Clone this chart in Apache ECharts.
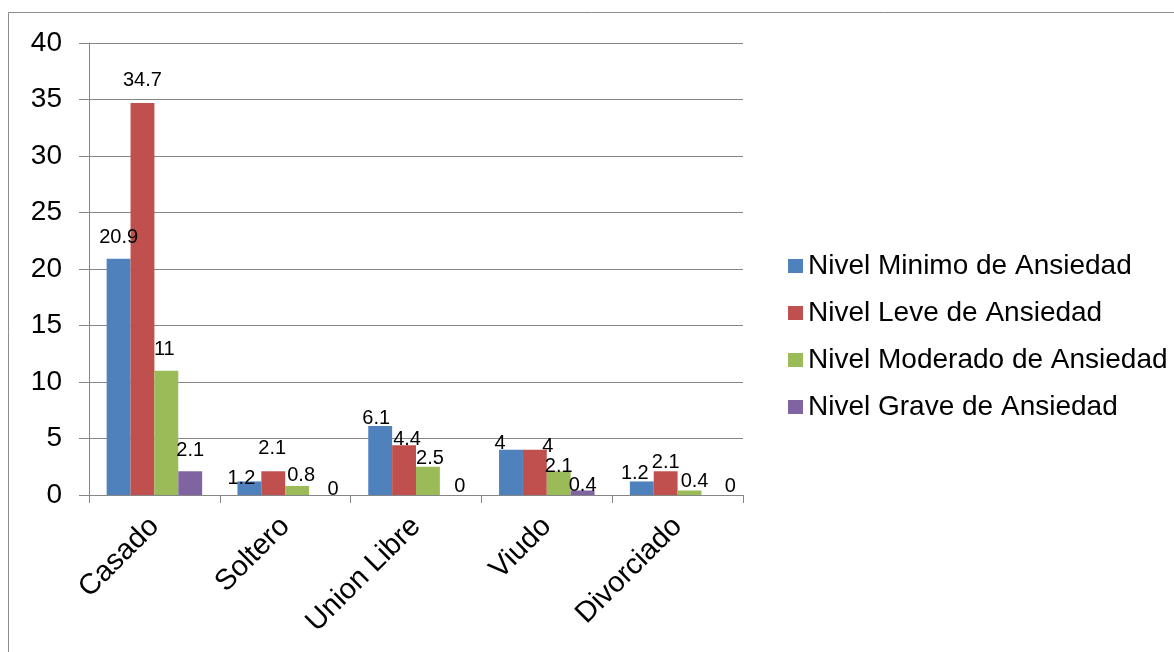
<!DOCTYPE html>
<html>
<head>
<meta charset="utf-8">
<script src="https://cdn.jsdelivr.net/npm/echarts@6/dist/echarts.min.js"></script>
<style>
  html, body { margin: 0; padding: 0; background: #ffffff; }
  #chart { width: 1174px; height: 652px; }
</style>
</head>
<body>
<div id="chart"></div>
<script>
// Estado civil (categorías del eje X)
const categories = ['Casado', 'Soltero', 'Union Libre', 'Viudo', 'Divorciado'];

// Nombres de las series
const seriesNames = [
  'Nivel Minimo de Ansiedad',
  'Nivel Leve de Ansiedad',
  'Nivel Moderado de Ansiedad',
  'Nivel Grave de Ansiedad'
];

// Porcentajes por nivel de ansiedad
const nivelMinimo   = [20.9, 1.2, 6.1, 4, 1.2];
const nivelLeve     = [34.7, 2.1, 4.4, 4, 2.1];
const nivelModerado = [11, 0.8, 2.5, 2.1, 0.4];
const nivelGrave    = [2.1, 0, 0, 0.4, 0];

// Marcas del eje Y
const yTicks = [0, 5, 10, 15, 20, 25, 30, 35, 40];

const seriesValues = [nivelMinimo, nivelLeve, nivelModerado, nivelGrave];
const colors = ['#4F81BD', '#C0504D', '#9BBB59', '#8064A2'];
const FONT = '"Liberation Sans", Arial, sans-serif';
const GRID_GRAY = '#868686';

// Desplazamiento manual [dx, dy] de cada etiqueta (serie -> categoría),
// para que no se encimen las etiquetas de barras vecinas.
const labelNudge = [
  [[0, -11], [-8, 7], [-4, 2], [-11, 4], [-7, 2]],
  [[0, -12], [-1, -13], [3, 4], [13, 7], [0, 1]],
  [[-2, -11], [4, 0], [2, 2], [0, 5], [5, 1]],
  [[0, -11], [12, 4], [8, 1], [0, 5], [17, 1]]
];

const chart = echarts.init(document.getElementById('chart'), null, { renderer: 'canvas' });

const series = seriesValues.map((vals, i) => ({
  name: seriesNames[i],
  type: 'bar',
  data: vals.map((v, j) => ({
    value: v,
    label: { offset: labelNudge[i][j] }
  })),
  barGap: '0%',
  barCategoryGap: '27%',
  itemStyle: { color: colors[i] },
  label: {
    show: true,
    position: 'top',
    distance: 0,
    color: '#000000',
    fontFamily: FONT,
    fontSize: 20
  }
}));

chart.setOption({
  animation: false,
  backgroundColor: '#ffffff',
  textStyle: { fontFamily: FONT },
  graphic: [{
    type: 'rect',
    shape: { x: 8.5, y: 12.5, width: 1200, height: 700 },
    style: { fill: 'none', stroke: '#8c8c8c', lineWidth: 1 },
    silent: true
  }],
  grid: { left: 89, right: 431, top: 43, bottom: 157, containLabel: false },
  legend: {
    orient: 'vertical',
    left: 783,
    top: 247,
    itemWidth: 15,
    itemHeight: 14,
    itemGap: 19,
    icon: 'rect',
    data: seriesNames,
    textStyle: { fontFamily: FONT, fontSize: 28, color: '#000000', lineHeight: 28 }
  },
  xAxis: {
    type: 'category',
    data: categories,
    boundaryGap: true,
    axisLine: { show: true, lineStyle: { color: GRID_GRAY, width: 1 } },
    axisTick: { show: true, length: 8, lineStyle: { color: GRID_GRAY } },
    axisLabel: {
      rotate: 45,
      margin: 27,
      color: '#000000',
      fontFamily: FONT,
      fontSize: 29,
      interval: 0
    }
  },
  yAxis: {
    type: 'value',
    min: yTicks[0],
    max: yTicks[yTicks.length - 1],
    interval: yTicks[1] - yTicks[0],
    axisLine: { show: true, lineStyle: { color: GRID_GRAY, width: 1 } },
    axisTick: { show: true, length: 10, lineStyle: { color: GRID_GRAY } },
    splitLine: { show: true, lineStyle: { color: GRID_GRAY, width: 1 } },
    axisLabel: {
      margin: 27,
      color: '#000000',
      fontFamily: FONT,
      fontSize: 28
    }
  },
  series: series
});
</script>
</body>
</html>
